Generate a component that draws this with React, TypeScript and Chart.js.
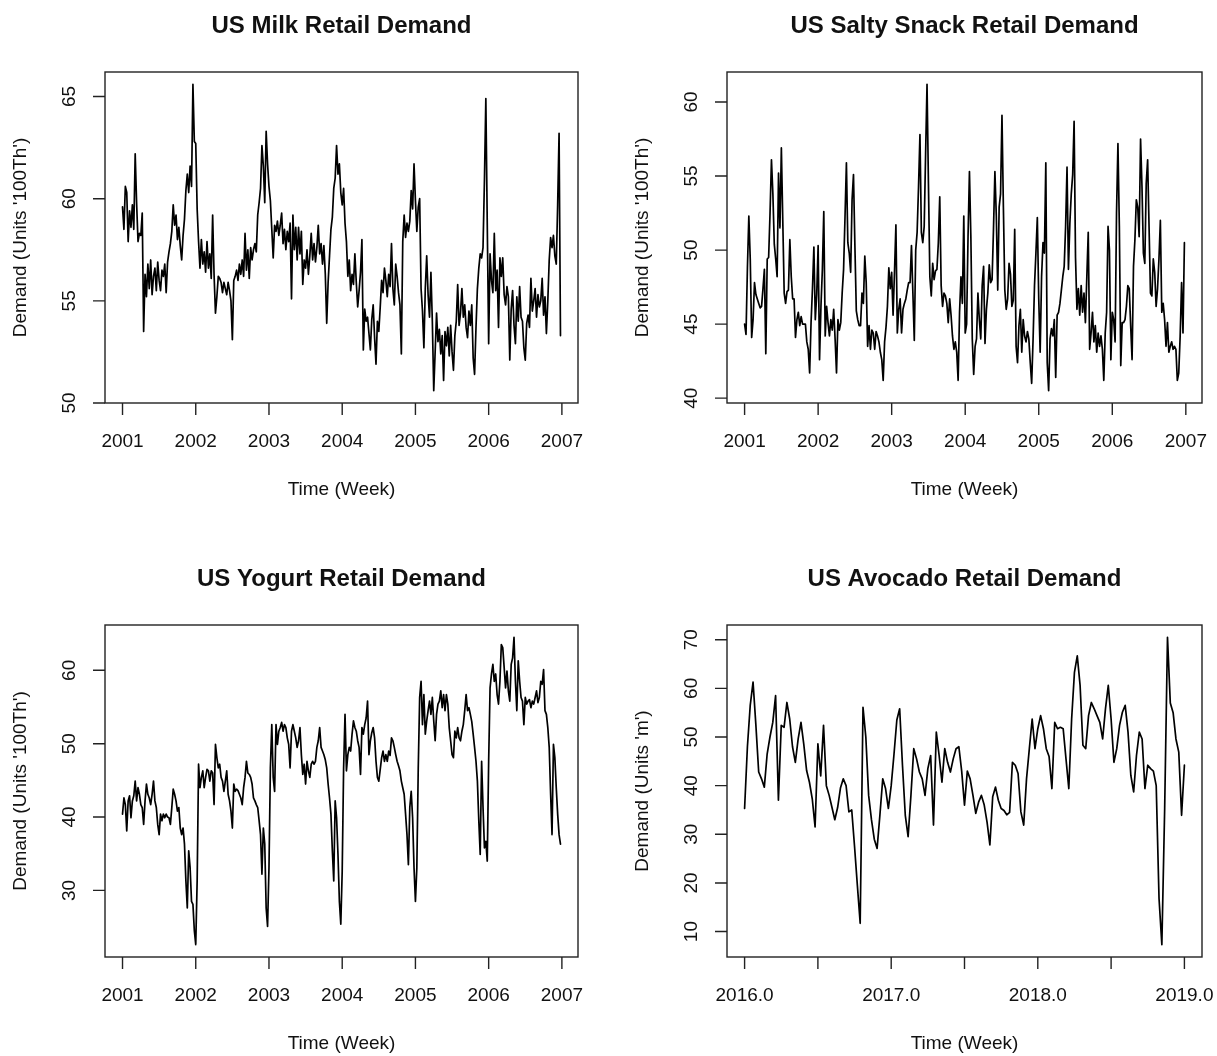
import React, { useEffect, useRef } from "react";
import { Chart, registerables } from "chart.js";

Chart.register(...registerables);

// Weekly retail demand series (one value per week, 52 weeks per year).
const milkDemand = [
  59.6, 58.5, 60.6, 60.3, 57.9, 59.4, 58.6, 59.7, 58.5, 62.2, 59.8, 57.9, 58.3,
  58.2, 59.3, 53.5, 56.3, 55.2, 56.8, 55.6, 57.0, 55.3, 56.2, 56.6, 55.5, 56.9,
  56.0, 55.5, 56.5, 56.2, 56.8, 55.4, 56.9, 57.4, 57.8, 58.4, 59.7, 58.7, 59.2,
  58.0, 58.6, 57.7, 57.0, 58.2, 59.0, 60.4, 61.2, 60.3, 61.6, 60.6, 65.6, 62.8,
  62.7, 59.5, 57.9, 56.6, 58.0, 56.8, 57.4, 56.4, 57.9, 56.6, 57.3, 56.1, 59.2,
  56.3, 54.4, 55.2, 56.2, 56.1, 55.9, 55.4, 55.9, 55.6, 55.3, 55.9, 55.5, 55.0,
  53.1, 56.0, 56.2, 56.5, 56.0, 56.8, 56.3, 57.0, 56.2, 58.3, 56.5, 57.5, 56.1,
  57.6, 57.0, 57.5, 57.8, 57.4, 59.2, 59.8, 60.5, 62.6, 61.6, 59.8, 63.3, 61.7,
  60.6, 59.9, 58.5, 57.1, 58.7, 58.4, 58.9, 58.2, 58.7, 59.3, 57.8, 58.5, 57.5,
  58.4, 57.9, 58.8, 55.1, 59.2, 57.5, 58.6, 57.0, 58.6, 57.3, 58.4, 55.8, 57.0,
  56.6, 57.5, 56.3, 57.2, 58.3, 57.0, 57.8, 56.9, 57.6, 58.7, 57.3, 57.8, 56.8,
  57.7, 56.3, 53.9, 55.9, 57.2, 58.5, 59.1, 60.5, 61.0, 62.6, 61.2, 61.7, 60.3,
  59.7, 60.5, 58.8, 57.9, 56.2, 57.0, 55.5, 56.3, 55.8, 57.3, 55.9, 54.7, 55.5,
  56.4, 58.0, 52.6, 54.6, 54.0, 54.2, 53.4, 52.6, 54.1, 54.8, 53.2, 51.9, 54.0,
  53.5, 54.7, 56.0, 55.4, 56.6, 56.0, 55.2, 56.3, 55.7, 57.8, 55.6, 54.8, 56.8,
  56.2, 55.4, 54.8, 52.4, 57.9, 59.2, 58.1, 58.8, 58.4, 58.9, 60.4, 59.5, 61.7,
  59.9, 58.4, 59.6, 60.0, 55.6, 54.5, 52.7, 55.6, 57.2, 55.3, 54.2, 56.4, 54.0,
  50.6, 52.5, 54.4, 53.0, 53.6, 52.4, 53.3, 51.1, 53.5, 52.8, 53.7, 52.3, 53.8,
  52.5, 51.6, 53.3, 54.0, 55.8, 53.8, 54.4, 55.6, 54.2, 54.8, 53.7, 53.2, 54.5,
  53.8, 54.8, 52.2, 51.4, 53.7, 55.6, 56.6, 57.3, 57.1, 57.6, 60.9, 64.9, 58.8,
  52.9, 57.3, 56.0, 55.4, 58.3, 55.5, 56.5, 53.7, 57.1, 56.2, 57.1, 55.3, 54.8,
  55.7, 55.2, 52.1, 54.6, 55.5, 53.8, 52.9, 55.2, 54.0, 55.7, 54.2, 54.0, 52.7,
  52.1, 53.9, 54.3, 53.7, 56.1, 54.5, 55.0, 55.6, 54.2, 55.3, 54.7, 55.0, 56.1,
  54.3, 55.2, 53.4, 55.0, 57.0, 58.1, 57.6, 58.2, 57.2, 56.8, 59.7, 63.2, 53.3,
];

const saltySnackDemand = [
  45.0, 44.3, 48.8, 52.3, 49.4, 44.1, 45.3, 47.8, 47.0, 46.7, 46.4, 46.1, 46.2,
  47.4, 48.7, 43.0, 49.4, 49.5, 52.5, 56.1, 53.8, 50.4, 49.4, 48.2, 55.2, 51.5,
  56.9, 52.0, 47.1, 46.4, 47.2, 47.3, 50.7, 48.2, 46.7, 46.7, 44.1, 45.3, 45.8,
  44.9, 45.5, 45.0, 45.0, 45.0, 43.8, 43.3, 41.7, 45.1, 47.4, 50.2, 45.3, 47.0,
  50.3, 42.6, 46.2, 48.7, 52.6, 44.2, 46.2, 45.1, 44.2, 45.3, 44.6, 46.0, 44.0,
  41.7, 45.3, 44.6, 45.1, 47.1, 48.7, 52.2, 55.9, 50.5, 49.8, 48.5, 53.4, 55.1,
  50.3, 45.9, 45.3, 44.9, 44.9, 47.1, 46.4, 49.6, 47.8, 43.5, 44.9, 43.3, 44.6,
  44.4, 43.3, 44.5, 44.2, 43.8, 43.1, 42.6, 41.2, 43.8, 44.8, 46.2, 48.8, 47.4,
  48.5, 45.6, 48.5, 51.7, 44.4, 46.0, 46.7, 44.4, 46.0, 46.4, 46.7, 47.3, 47.8,
  47.8, 50.3, 47.1, 43.9, 50.0, 51.2, 54.3, 57.8, 51.2, 50.5, 51.6, 56.5, 61.2,
  54.5, 48.2, 46.9, 49.1, 48.0, 48.6, 48.7, 50.5, 53.6, 47.6, 46.2, 47.1, 46.9,
  46.4, 45.1, 46.7, 45.6, 44.2, 43.3, 43.8, 43.1, 41.2, 45.8, 48.2, 46.4, 52.3,
  44.4, 45.0, 50.9, 55.3, 50.9, 44.0, 41.6, 43.5, 44.0, 47.1, 45.3, 44.0, 47.6,
  48.9, 43.7, 46.0, 47.1, 49.0, 47.8, 48.0, 51.4, 55.3, 52.3, 47.3, 52.9, 53.8,
  59.1, 52.9, 47.3, 46.0, 46.7, 49.1, 48.4, 46.2, 46.6, 51.4, 43.5, 42.4, 44.9,
  46.0, 43.1, 45.3, 44.2, 43.8, 44.5, 44.0, 42.4, 41.0, 44.0, 47.6, 49.8, 52.2,
  46.7, 43.1, 48.2, 50.5, 49.8, 55.9, 42.4, 40.5, 44.0, 44.7, 44.2, 45.3, 41.4,
  45.6, 45.8, 46.4, 47.3, 48.2, 48.9, 51.6, 55.6, 48.7, 51.8, 53.8, 55.1, 58.7,
  49.5, 46.0, 47.4, 45.6, 47.6, 45.8, 47.1, 45.1, 48.2, 51.2, 43.3, 44.4, 45.8,
  43.8, 44.9, 43.1, 44.4, 43.5, 44.2, 43.3, 41.2, 44.4, 45.8, 51.6, 50.0, 42.6,
  45.8, 45.3, 43.8, 52.5, 57.2, 51.6, 42.2, 45.1, 45.1, 45.3, 46.2, 47.6, 47.4,
  44.9, 42.6, 48.9, 50.7, 53.4, 52.9, 50.9, 57.5, 54.3, 49.8, 49.1, 54.5, 56.1,
  51.6, 47.1, 46.9, 49.4, 48.5, 46.2, 47.4, 49.4, 52.0, 45.8, 46.4, 45.3, 43.5,
  45.1, 43.1, 43.5, 43.8, 43.3, 43.5, 43.3, 41.2, 41.7, 44.2, 47.8, 44.4, 50.5,
];

const yogurtDemand = [
  40.4, 42.6, 41.7, 38.1, 42.2, 42.9, 39.9, 42.2, 42.9, 44.9, 42.2, 44.0, 43.1,
  41.7, 41.3, 39.0, 42.2, 44.5, 43.1, 42.6, 41.7, 43.1, 44.9, 42.2, 41.3, 39.0,
  37.6, 40.4, 39.5, 40.4, 39.9, 40.4, 40.0, 39.9, 39.0, 41.3, 43.8, 43.1, 42.2,
  40.8, 41.3, 38.5, 37.6, 38.5, 36.3, 31.3, 27.6, 35.4, 33.1, 28.5, 28.1, 24.5,
  22.6, 31.3, 47.2, 44.0, 45.4, 46.3, 44.0, 45.4, 46.5, 46.3, 44.9, 46.3, 46.0,
  41.7, 49.9, 48.1, 46.7, 47.2, 45.4, 44.9, 43.5, 44.9, 46.3, 43.1, 42.2, 40.8,
  38.5, 44.5, 43.5, 43.8, 43.6, 43.1, 42.6, 41.7, 44.0, 45.4, 47.6, 46.0, 45.8,
  45.4, 44.5, 42.6, 42.2, 41.7, 41.3, 39.5, 37.6, 32.2, 38.5, 36.3, 27.6, 25.1,
  33.1, 46.7, 52.6, 45.4, 43.5, 52.6, 49.9, 51.7, 52.2, 52.9, 51.7, 52.6, 52.2,
  50.8, 49.9, 46.7, 51.7, 52.6, 51.7, 50.8, 49.5, 50.4, 52.2, 48.5, 45.8, 47.2,
  44.5, 47.6, 46.3, 45.4, 47.2, 47.6, 47.2, 47.6, 49.5, 50.4, 52.2, 49.5, 49.0,
  48.5, 47.8, 46.7, 44.5, 42.6, 40.4, 35.4, 31.3, 42.2, 39.9, 34.9, 28.5, 25.4,
  32.6, 46.7, 54.0, 46.3, 48.5, 49.5, 49.0, 51.3, 53.1, 52.2, 51.7, 50.4, 49.5,
  45.8, 52.2, 51.3, 52.6, 53.5, 55.8, 48.5, 50.4, 51.5, 52.2, 50.8, 47.6, 45.4,
  44.9, 46.5, 48.1, 49.0, 47.6, 48.5, 47.6, 49.0, 48.4, 50.8, 50.4, 49.5, 48.5,
  47.6, 47.0, 46.3, 44.9, 44.0, 43.1, 40.4, 37.6, 33.5, 41.3, 43.5, 39.9, 33.1,
  28.5, 33.1, 46.7, 56.3, 58.5, 52.6, 56.7, 51.3, 53.1, 54.5, 55.8, 54.0, 56.3,
  53.1, 50.4, 54.0, 55.4, 55.8, 57.2, 54.9, 56.7, 54.5, 56.7, 55.4, 52.2, 50.4,
  48.5, 48.1, 51.7, 50.8, 52.2, 50.8, 50.4, 51.7, 52.6, 54.5, 56.7, 54.5, 54.9,
  54.0, 53.0, 51.3, 49.5, 47.6, 44.9, 39.5, 34.9, 47.6, 41.3, 35.8, 36.7, 34.0,
  47.6, 57.6, 59.5, 60.8, 58.5, 59.5, 56.7, 55.4, 58.5, 63.5, 63.1, 60.4, 57.6,
  59.9, 57.2, 55.8, 60.8, 61.7, 64.5, 58.5, 54.5, 61.3, 58.5, 56.3, 55.8, 52.6,
  56.3, 55.4, 55.8, 56.0, 54.9, 55.8, 55.4, 56.3, 57.2, 55.6, 56.3, 58.5, 58.1,
  60.1, 54.5, 54.0, 52.2, 49.5, 43.1, 37.6, 49.9, 48.1, 44.0, 40.4, 37.6, 36.3,
];

const avocadoDemand = [
  35.3, 48.0, 56.5, 61.3, 52.5, 42.8, 41.4, 39.7, 46.5, 50.0, 53.0, 58.5, 37.0,
  52.4, 52.0, 57.1, 53.7, 48.0, 44.8, 49.6, 53.0, 48.5, 43.1, 40.7, 37.3, 31.5,
  48.6, 42.0, 52.4, 40.0, 38.0, 35.5, 33.0, 35.5, 39.5, 41.4, 40.0, 34.6, 35.0,
  27.5, 19.5, 11.7, 56.1, 50.0, 38.0, 33.0, 29.0, 27.1, 34.0, 41.4, 39.4, 35.3,
  40.0, 46.5, 53.5, 55.8, 44.2, 33.9, 29.5, 38.0, 47.6, 45.5, 42.8, 41.4, 38.0,
  43.5, 46.2, 31.9, 51.0, 46.2, 40.7, 47.6, 44.8, 42.8, 45.5, 47.6, 48.0, 43.0,
  36.0, 43.0, 41.4, 38.0, 34.3, 36.6, 38.0, 36.0, 32.5, 27.8, 37.7, 39.7, 37.0,
  35.3, 34.9, 34.0, 34.5, 44.8, 44.2, 42.5, 34.6, 31.9, 41.4, 47.6, 53.7, 47.6,
  51.7, 54.4, 51.7, 47.6, 46.0, 39.4, 53.0, 51.7, 52.0, 51.7, 45.5, 39.4, 53.7,
  63.3, 66.7, 60.6, 48.3, 47.6, 54.4, 57.1, 55.8, 54.4, 53.0, 49.6, 55.8, 60.6,
  53.7, 44.8, 47.6, 52.4, 55.1, 56.5, 51.0, 42.1, 38.7, 46.2, 51.0, 49.6, 39.4,
  44.2, 43.5, 43.0, 40.0, 16.8, 7.3, 35.3, 70.5, 57.0, 55.0, 49.6, 46.9, 33.9,
  44.2,
];

// Axis ticks
const yearTicks = [2001, 2002, 2003, 2004, 2005, 2006, 2007];
const yearTickLabels = ["2001", "2002", "2003", "2004", "2005", "2006", "2007"];
const avocadoYearTicks = [2016, 2016.5, 2017, 2017.5, 2018, 2018.5, 2019];
const avocadoYearTickLabels = ["2016.0", "", "2017.0", "", "2018.0", "", "2019.0"];
const milkValueTicks = [50, 55, 60, 65];
const snackValueTicks = [40, 45, 50, 55, 60];
const yogurtValueTicks = [30, 40, 50, 60];
const avocadoValueTicks = [10, 20, 30, 40, 50, 60, 70];

const WEEKS_PER_YEAR = 52;
const INK = "#111";
const FONT = "'Liberation Sans', Arial, Helvetica, sans-serif";

type Panel = {
  title: string;
  yTitle: string;
  values: number[];
  start: number;
  xTicks: number[];
  xTickLabels: string[];
  yTicks: number[];
  left: number;
  top: number;
  width: number;
  height: number;
  padding: { left: number; top: number; right: number; bottom: number };
};

const panels: Panel[] = [
  {
    title: "US Milk Retail Demand",
    yTitle: "Demand (Units '100Th')",
    values: milkDemand,
    start: 2001,
    xTicks: yearTicks,
    xTickLabels: yearTickLabels,
    yTicks: milkValueTicks,
    left: 0, top: 0, width: 608, height: 528,
    padding: { left: 105, top: 72, right: 30, bottom: 125 },
  },
  {
    title: "US Salty Snack Retail Demand",
    yTitle: "Demand (Units '100Th')",
    values: saltySnackDemand,
    start: 2001,
    xTicks: yearTicks,
    xTickLabels: yearTickLabels,
    yTicks: snackValueTicks,
    left: 608, top: 0, width: 609, height: 528,
    padding: { left: 119, top: 72, right: 15, bottom: 125 },
  },
  {
    title: "US Yogurt Retail Demand",
    yTitle: "Demand (Units '100Th')",
    values: yogurtDemand,
    start: 2001,
    xTicks: yearTicks,
    xTickLabels: yearTickLabels,
    yTicks: yogurtValueTicks,
    left: 0, top: 528, width: 608, height: 528,
    padding: { left: 105, top: 97, right: 30, bottom: 99 },
  },
  {
    title: "US Avocado Retail Demand",
    yTitle: "Demand (Units 'm')",
    values: avocadoDemand,
    start: 2016,
    xTicks: avocadoYearTicks,
    xTickLabels: avocadoYearTickLabels,
    yTicks: avocadoValueTicks,
    left: 608, top: 528, width: 609, height: 528,
    padding: { left: 119, top: 97, right: 15, bottom: 99 },
  },
];

// Base-graphics style frame: box, outward ticks, rotated y labels, titles.
function framePlugin(p: Panel) {
  return {
    id: "baseFrame",
    afterDraw(chart: any) {
      const { ctx, chartArea: a, scales } = chart;
      const TICK = 12;
      ctx.save();
      ctx.strokeStyle = "#222";
      ctx.lineWidth = 1.4;
      ctx.strokeRect(a.left, a.top, a.right - a.left, a.bottom - a.top);

      ctx.beginPath();
      p.xTicks.forEach((t) => {
        const px = scales.x.getPixelForValue(t);
        ctx.moveTo(px, a.bottom);
        ctx.lineTo(px, a.bottom + TICK);
      });
      p.yTicks.forEach((t) => {
        const py = scales.y.getPixelForValue(t);
        ctx.moveTo(a.left, py);
        ctx.lineTo(a.left - TICK, py);
      });
      ctx.stroke();

      ctx.fillStyle = INK;
      ctx.font = `19px ${FONT}`;
      ctx.textAlign = "center";
      ctx.textBaseline = "alphabetic";
      p.xTicks.forEach((t, i) => {
        const label = p.xTickLabels[i];
        if (label) ctx.fillText(label, scales.x.getPixelForValue(t), a.bottom + 44);
      });
      p.yTicks.forEach((t) => {
        ctx.save();
        ctx.translate(a.left - 30, scales.y.getPixelForValue(t));
        ctx.rotate(-Math.PI / 2);
        ctx.fillText(String(t), 0, 0);
        ctx.restore();
      });

      const midX = (a.left + a.right) / 2;
      const midY = (a.top + a.bottom) / 2;
      ctx.fillText("Time (Week)", midX, a.bottom + 92);
      ctx.save();
      ctx.translate(a.left - 79, midY);
      ctx.rotate(-Math.PI / 2);
      ctx.fillText(p.yTitle, 0, 0);
      ctx.restore();

      ctx.font = `bold 24px ${FONT}`;
      ctx.fillText(p.title, midX, a.top - 39);
      ctx.restore();
    },
  };
}

function SeriesPanel({ panel }: { panel: Panel }) {
  const ref = useRef<HTMLCanvasElement | null>(null);

  useEffect(() => {
    const canvas = ref.current;
    if (!canvas) return;
    const n = panel.values.length;
    const points = panel.values.map((v, i) => ({ x: panel.start + i / WEEKS_PER_YEAR, y: v }));
    const t0 = panel.start;
    const t1 = panel.start + (n - 1) / WEEKS_PER_YEAR;
    const xPad = 0.04 * (t1 - t0);
    const lo = Math.min(...panel.values);
    const hi = Math.max(...panel.values);
    const yPad = 0.04 * (hi - lo);

    const chart = new Chart(canvas, {
      type: "line",
      data: {
        datasets: [
          {
            data: points,
            borderColor: "#000",
            borderWidth: 1.7,
            pointRadius: 0,
            tension: 0,
            fill: false,
            borderJoinStyle: "round",
            borderCapStyle: "round",
          },
        ],
      },
      options: {
        responsive: false,
        animation: false,
        devicePixelRatio: 1,
        parsing: false,
        normalized: true,
        layout: { padding: panel.padding },
        plugins: { legend: { display: false }, tooltip: { enabled: false }, title: { display: false } },
        scales: {
          x: { type: "linear", display: false, min: t0 - xPad, max: t1 + xPad },
          y: { type: "linear", display: false, min: lo - yPad, max: hi + yPad },
        },
      },
      plugins: [framePlugin(panel)],
    } as any);
    return () => chart.destroy();
  }, [panel]);

  return (
    <canvas
      ref={ref}
      width={panel.width}
      height={panel.height}
      style={{ position: "absolute", left: panel.left, top: panel.top, width: panel.width, height: panel.height }}
    />
  );
}

export default function App() {
  return (
    <div style={{ position: "absolute", left: 0, top: 0, width: 1217, height: 1056, background: "#fff" }}>
      {panels.map((p) => (
        <SeriesPanel key={p.title} panel={p} />
      ))}
    </div>
  );
}
